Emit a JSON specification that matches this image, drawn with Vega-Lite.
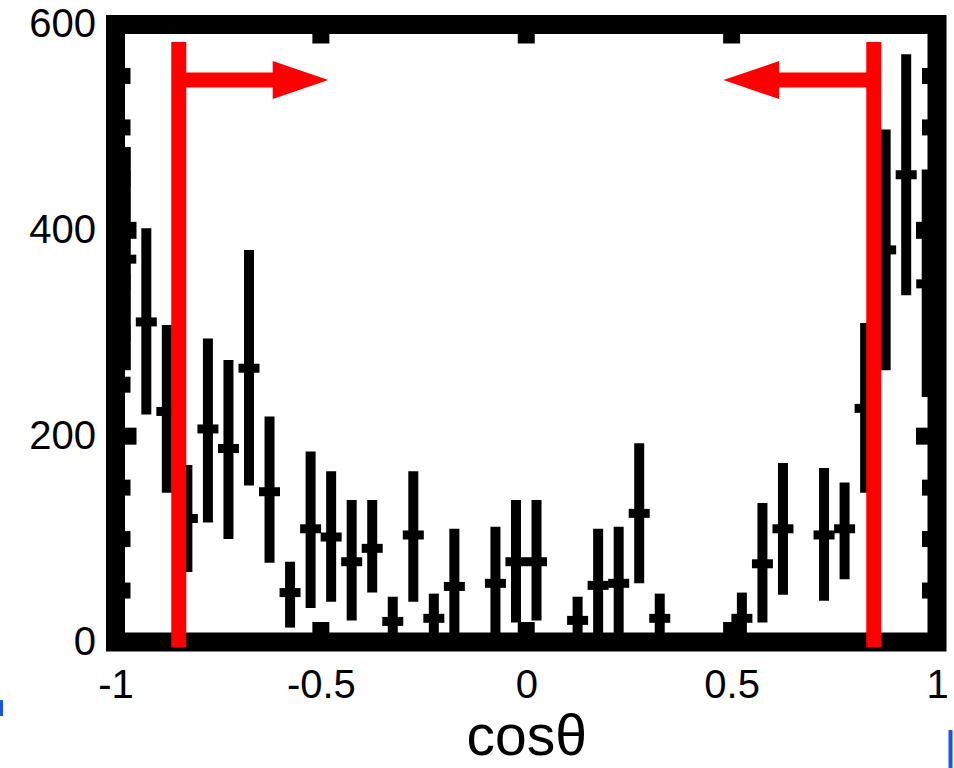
{
  "$schema": "https://vega.github.io/schema/vega-lite/v6.json",
  "width": 821.5,
  "height": 617.5,
  "autosize": {"type": "none"},
  "padding": {"left": 115.5, "top": 24.5, "right": 17, "bottom": 126},
  "background": "white",
  "config": {
    "view": {"stroke": null},
    "axis": {
      "labelFont": "Liberation Sans",
      "titleFont": "Liberation Sans",
      "labelColor": "#000",
      "titleColor": "#000",
      "domain": false,
      "ticks": false,
      "grid": false
    }
  },
  "resolve": {"axis": {"x": "independent", "y": "independent"}},
  "datasets": {
    "bins": [
      {"x": -0.975, "y": 372, "lo": 264, "hi": 481},
      {"x": -0.925, "y": 311, "lo": 221, "hi": 402},
      {"x": -0.875, "y": 224, "lo": 145, "hi": 308},
      {"x": -0.825, "y": 120, "lo": 68, "hi": 172},
      {"x": -0.775, "y": 207, "lo": 116, "hi": 295},
      {"x": -0.725, "y": 188, "lo": 100, "hi": 274},
      {"x": -0.675, "y": 266, "lo": 152, "hi": 381},
      {"x": -0.625, "y": 146, "lo": 77, "hi": 219},
      {"x": -0.575, "y": 48, "lo": 14, "hi": 78},
      {"x": -0.525, "y": 110, "lo": 33, "hi": 185},
      {"x": -0.475, "y": 102, "lo": 39, "hi": 166},
      {"x": -0.425, "y": 78, "lo": 21, "hi": 138},
      {"x": -0.375, "y": 91, "lo": 48, "hi": 138},
      {"x": -0.325, "y": 20, "lo": 0, "hi": 44},
      {"x": -0.275, "y": 104, "lo": 39, "hi": 166},
      {"x": -0.225, "y": 23, "lo": 0, "hi": 47},
      {"x": -0.175, "y": 54, "lo": 0, "hi": 110},
      {"x": -0.075, "y": 57, "lo": 0, "hi": 112},
      {"x": -0.025, "y": 78, "lo": 19, "hi": 138},
      {"x": 0.025, "y": 78, "lo": 21, "hi": 138},
      {"x": 0.125, "y": 21, "lo": 0, "hi": 44},
      {"x": 0.175, "y": 55, "lo": 0, "hi": 110},
      {"x": 0.225, "y": 57, "lo": 0, "hi": 112},
      {"x": 0.275, "y": 125, "lo": 57, "hi": 193},
      {"x": 0.325, "y": 23, "lo": 0, "hi": 47},
      {"x": 0.525, "y": 23, "lo": 0, "hi": 48},
      {"x": 0.575, "y": 76, "lo": 19, "hi": 135},
      {"x": 0.625, "y": 110, "lo": 46, "hi": 174},
      {"x": 0.725, "y": 104, "lo": 40, "hi": 169},
      {"x": 0.775, "y": 110, "lo": 61, "hi": 155},
      {"x": 0.825, "y": 227, "lo": 145, "hi": 310},
      {"x": 0.875, "y": 381, "lo": 264, "hi": 498},
      {"x": 0.925, "y": 454, "lo": 337, "hi": 571},
      {"x": 0.975, "y": 348, "lo": 238, "hi": 459}
    ],
    "xticks": [{"v": -0.5}, {"v": 0}, {"v": 0.5}],
    "ymajor": [{"v": 200}, {"v": 400}],
    "yminor": [{"v": 50}, {"v": 100}, {"v": 150}, {"v": 250}, {"v": 300}, {"v": 350}, {"v": 450}, {"v": 500}, {"v": 550}],
    "cuts": [{"x": -0.846}, {"x": 0.846}],
    "shafts": [{"x1": -0.846, "x2": -0.61, "y": 546}, {"x1": 0.846, "x2": 0.61, "y": 546}],
    "headR": [{"x": -0.5496, "y": 546}],
    "headL": [{"x": 0.5477, "y": 546}],
    "blue": [
      {"x": -1.2788, "y1": -56.4, "y2": -71.9},
      {"x": 1.0329, "y1": -85.5, "y2": -122.4}
    ]
  },
  "layer": [
    {
      "data": {"name": "bins"},
      "mark": {"type": "rule", "color": "#000", "strokeWidth": 10},
      "encoding": {
        "x": {
          "field": "x", "type": "quantitative",
          "scale": {"domain": [-1, 1], "nice": false, "zero": false},
          "title": "cosθ",
          "axis": {
            "orient": "bottom",
            "values": [-1, -0.5, 0, 0.5, 1],
            "labelExpr": "'' + datum.value",
            "labelFontSize": 40,
            "labelPadding": 23,
            "labelFlush": false,
            "labelOverlap": false,
            "titleFontSize": 57,
            "titleFontWeight": "normal",
            "titlePadding": 4
          }
        },
        "y": {
          "field": "lo", "type": "quantitative",
          "scale": {"domain": [0, 600], "nice": false, "zero": false},
          "title": null,
          "axis": {
            "orient": "left",
            "values": [0, 200, 400, 600],
            "labelFontSize": 40,
            "labelPadding": 20,
            "labelFlush": false,
            "labelOverlap": false
          }
        },
        "y2": {"field": "hi"}
      }
    },
    {
      "data": {"name": "bins"},
      "mark": {"type": "tick", "orient": "horizontal", "size": 21, "thickness": 9, "color": "#000", "opacity": 1},
      "encoding": {
        "x": {"field": "x", "type": "quantitative", "axis": null},
        "y": {"field": "y", "type": "quantitative", "axis": null}
      }
    },
    {
      "data": {"values": [{}]},
      "mark": {"type": "rect", "fill": null, "stroke": "#000", "strokeWidth": 19, "strokeJoin": "miter"},
      "encoding": {
        "x": {"datum": -1, "type": "quantitative", "axis": null},
        "x2": {"datum": 1},
        "y": {"datum": 0, "type": "quantitative", "axis": null},
        "y2": {"datum": 600}
      }
    },
    {
      "data": {"name": "xticks"},
      "mark": {"type": "tick", "orient": "vertical", "size": 20, "thickness": 17, "yOffset": -10, "color": "#000", "opacity": 1},
      "encoding": {
        "x": {"field": "v", "type": "quantitative", "axis": null},
        "y": {"datum": 0, "type": "quantitative", "axis": null}
      }
    },
    {
      "data": {"name": "xticks"},
      "mark": {"type": "tick", "orient": "vertical", "size": 19, "thickness": 17, "yOffset": 9.5, "color": "#000", "opacity": 1},
      "encoding": {
        "x": {"field": "v", "type": "quantitative", "axis": null},
        "y": {"datum": 600, "type": "quantitative", "axis": null}
      }
    },
    {
      "data": {"name": "ymajor"},
      "mark": {"type": "tick", "orient": "horizontal", "size": 21, "thickness": 17, "xOffset": 10.5, "color": "#000", "opacity": 1},
      "encoding": {
        "x": {"datum": -1, "type": "quantitative", "axis": null},
        "y": {"field": "v", "type": "quantitative", "axis": null}
      }
    },
    {
      "data": {"name": "ymajor"},
      "mark": {"type": "tick", "orient": "horizontal", "size": 21, "thickness": 17, "xOffset": -10.5, "color": "#000", "opacity": 1},
      "encoding": {
        "x": {"datum": 1, "type": "quantitative", "axis": null},
        "y": {"field": "v", "type": "quantitative", "axis": null}
      }
    },
    {
      "data": {"name": "yminor"},
      "mark": {"type": "tick", "orient": "horizontal", "size": 15, "thickness": 16, "xOffset": 7.5, "color": "#000", "opacity": 1},
      "encoding": {
        "x": {"datum": -1, "type": "quantitative", "axis": null},
        "y": {"field": "v", "type": "quantitative", "axis": null}
      }
    },
    {
      "data": {"name": "yminor"},
      "mark": {"type": "tick", "orient": "horizontal", "size": 15, "thickness": 16, "xOffset": -7.5, "color": "#000", "opacity": 1},
      "encoding": {
        "x": {"datum": 1, "type": "quantitative", "axis": null},
        "y": {"field": "v", "type": "quantitative", "axis": null}
      }
    },
    {
      "data": {"name": "cuts"},
      "mark": {"type": "rule", "color": "#ff0000", "strokeWidth": 15},
      "encoding": {
        "x": {"field": "x", "type": "quantitative", "axis": null},
        "y": {"datum": -5, "type": "quantitative", "axis": null},
        "y2": {"datum": 583}
      }
    },
    {
      "data": {"name": "shafts"},
      "mark": {"type": "rule", "color": "#ff0000", "strokeWidth": 15},
      "encoding": {
        "x": {"field": "x1", "type": "quantitative", "axis": null},
        "x2": {"field": "x2"},
        "y": {"field": "y", "type": "quantitative", "axis": null}
      }
    },
    {
      "data": {"name": "headR"},
      "mark": {"type": "point", "shape": "M-1,-0.683L1,0L-1,0.683Z", "size": 3091, "filled": true, "color": "#ff0000", "opacity": 1, "strokeWidth": 0},
      "encoding": {
        "x": {"field": "x", "type": "quantitative", "axis": null},
        "y": {"field": "y", "type": "quantitative", "axis": null}
      }
    },
    {
      "data": {"name": "headL"},
      "mark": {"type": "point", "shape": "M1,-0.683L-1,0L1,0.683Z", "size": 3091, "filled": true, "color": "#ff0000", "opacity": 1, "strokeWidth": 0},
      "encoding": {
        "x": {"field": "x", "type": "quantitative", "axis": null},
        "y": {"field": "y", "type": "quantitative", "axis": null}
      }
    },
    {
      "data": {"name": "blue"},
      "mark": {"type": "rule", "color": "#1f50e8", "strokeWidth": 4},
      "encoding": {
        "x": {"field": "x", "type": "quantitative", "axis": null},
        "y": {"field": "y1", "type": "quantitative", "axis": null},
        "y2": {"field": "y2"}
      }
    }
  ]
}
